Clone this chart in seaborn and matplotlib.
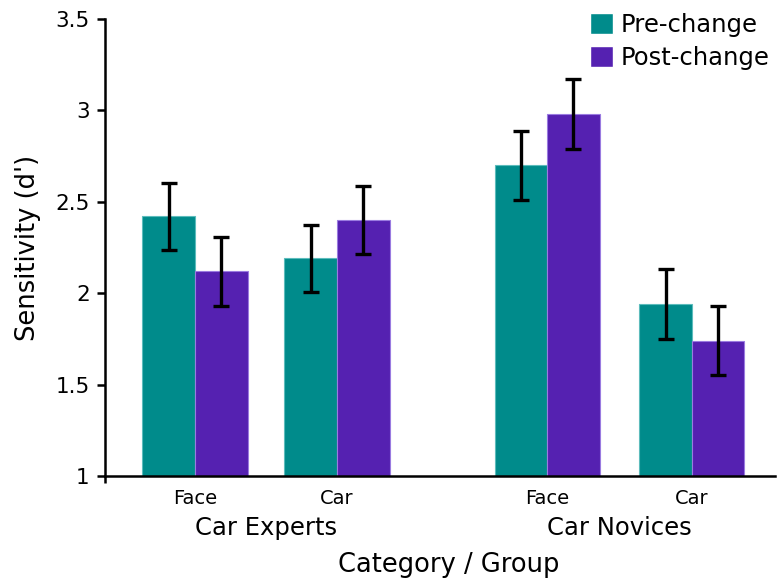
import numpy as np
import pandas as pd
import seaborn as sns
import matplotlib
matplotlib.use("Agg")
import matplotlib.pyplot as plt

# ---- data ----
groups = ["Car Experts", "Car Experts", "Car Novices", "Car Novices"]
categories = ["Face", "Car", "Face", "Car"]
positions = [0.0, 1.0, 2.48, 3.5]
pre_change = [2.42, 2.19, 2.70, 1.94]
post_change = [2.12, 2.40, 2.98, 1.74]
pre_err = [0.185, 0.185, 0.19, 0.19]
post_err = [0.19, 0.185, 0.19, 0.19]
conditions = ["Pre-change", "Post-change"]
y_ticks = [1, 1.5, 2, 2.5, 3, 3.5]
y_tick_labels = ["1", "1.5", "2", "2.5", "3", "3.5"]
group_names = ["Car Experts", "Car Novices"]

df = pd.DataFrame({
    "pos": positions * 2,
    "cat": categories * 2,
    "group": groups * 2,
    "value": pre_change + post_change,
    "cond": [conditions[0]] * 4 + [conditions[1]] * 4,
})

sns.set_style("white")
plt.rcParams["font.family"] = ["DejaVu Sans"]
plt.rcParams["text.color"] = "black"
plt.rcParams["axes.labelcolor"] = "black"
plt.rcParams["xtick.color"] = "black"
plt.rcParams["ytick.color"] = "black"

fig = plt.figure(figsize=(7.78, 5.81), dpi=100)
ax = fig.add_axes([105 / 778, 1 - 476 / 581, 670 / 778, 457 / 581])

palette = {"Pre-change": "#008b8b", "Post-change": "#5521b1"}
sns.barplot(data=df, x="pos", y="value", hue="cond", hue_order=conditions,
            palette=palette, native_scale=True, width=0.74, errorbar=None,
            saturation=1, ax=ax, legend=True)

# error bars
edge_cols = ["#5cbcbc", "#9a7be0"]
for cont, errs, ec in zip(ax.containers, [pre_err, post_err], edge_cols):
    bars = sorted(cont.patches, key=lambda p: p.get_x())
    xs = [p.get_x() + p.get_width() / 2 for p in bars]
    ys = [p.get_height() for p in bars]
    for p in bars:
        p.set_edgecolor(ec)
        p.set_linewidth(0.8)
    ax.errorbar(xs, ys, yerr=errs, fmt="none", ecolor="black",
                elinewidth=2.4, capsize=5.5, capthick=2.4, zorder=5)

ax.set_ylim(1, 3.5)
ax.set_xlim(-0.634, 4.085)
ax.set_yticks(y_ticks)
ax.set_yticklabels(y_tick_labels, fontsize=15.5)
ax.set_xticks(positions)
ax.set_xticklabels(categories, fontsize=14)
ax.tick_params(axis="x", which="major", bottom=True, length=0, pad=9)
ax.tick_params(axis="y", left=True, length=6, width=1.8, direction="out", pad=5)
ax.set_xticks([-0.634], minor=True)
ax.tick_params(axis="x", which="minor", bottom=True, length=5, width=1.8,
               direction="out")

for s in ["top", "right"]:
    ax.spines[s].set_visible(False)
for s in ["left", "bottom"]:
    ax.spines[s].set_linewidth(1.8)
    ax.spines[s].set_color("black")

# group labels
trans = ax.get_xaxis_transform()
for gname in group_names:
    idx = [i for i, g in enumerate(groups) if g == gname]
    xm = np.mean([positions[i] for i in idx])
    ax.text(xm, (476 - 528) / 457, gname, transform=trans, ha="center",
            va="center", fontsize=17.5, color="black")

ax.set_xlabel("Category / Group", fontsize=18.5, va="center")
ax.xaxis.set_label_coords((449 - 105) / 670, (476 - 565) / 457)
ax.set_ylabel("Sensitivity (d')", fontsize=18.5, va="center")
ax.yaxis.set_label_coords((28 - 105) / 670, 0.5)

leg = ax.legend(loc="upper right", bbox_to_anchor=(1.006, 1.035), frameon=False,
                fontsize=17.5, handlelength=0.95, handleheight=0.95,
                handletextpad=0.3, labelspacing=0.38, borderaxespad=0)

fig.savefig("out.png", dpi=100)
